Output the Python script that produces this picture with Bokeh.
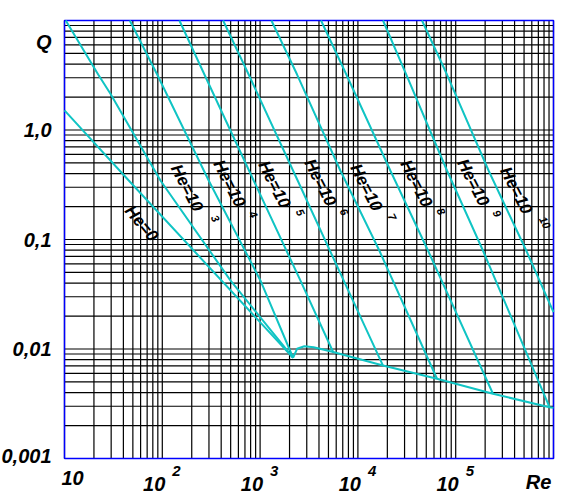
from bokeh.plotting import figure
from bokeh.models import Label, Range1d
from bokeh.embed import file_html
from bokeh.resources import INLINE

# ---- data (Re, friction factor) ----
he0_re = [10, 45.4, 2173]
he0_f = [1.51, 0.346, 0.00832]

he3_re = [10.3, 22.1, 29.5, 95.7, 497, 2173]
he3_f = [10, 3.21, 2.14, 0.346, 0.0423, 0.00832]

he4_re = [46.5, 88.6, 298, 1007, 2173]
he4_f = [10, 3.21, 0.346, 0.0423, 0.00832]

he5_re = [149.6, 269.5, 859, 2580, 5610]
he5_f = [10, 3.21, 0.346, 0.0423, 0.00929]

he6_re = [418.5, 764, 2421, 7145, 18060]
he6_f = [10, 3.21, 0.346, 0.0423, 0.00706]

he7_re = [1305, 2388, 6612, 16555, 64360]
he7_f = [10, 3.21, 0.4267, 0.0793, 0.00535]

he8_re = [4198, 7616, 21450, 52070, 240400]
he8_f = [10, 3.21, 0.4267, 0.0793, 0.0039]

he9_re = [18060, 31240, 81400, 189900, 909900]
he9_f = [10, 3.21, 0.4267, 0.0793, 0.00294]

he10_re = [45220, 81400, 216700, 526000, 1000000]
he10_f = [10, 3.21, 0.4267, 0.0793, 0.0217]

turb_re = [2173, 2388, 2835, 3527, 5224, 18060, 64360, 240400, 909900, 1000000]
turb_f = [0.00832, 0.01004, 0.0106, 0.01038, 0.00955, 0.00706, 0.00535, 0.0039, 0.00294, 0.0029]

# curve labels
he_label_text = ["He=0", "He=10", "He=10", "He=10", "He=10", "He=10", "He=10", "He=10", "He=10"]
he_label_re = [61.2, 178.6, 485, 1400, 4130, 12190, 39540, 151100, 415600]
he_label_f = [0.140, 0.2954, 0.3246, 0.3179, 0.3315, 0.2985, 0.3246, 0.3315, 0.2802]
he_exp_text = ["3", "4", "5", "6", "7", "8", "9", "10"]
he_exp_re = [349, 853, 2580, 7264, 22470, 71190, 265900, 822000]
he_exp_f = [0.1556, 0.1692, 0.1765, 0.1783, 0.1605, 0.1802, 0.1727, 0.1429]

# axis tick labels
x_tick_vals = [10, 100, 1000, 10000, 100000]
x_tick_sups = ["", "2", "3", "4", "5"]
y_tick_vals = [0.001, 0.01, 0.1, 1.0, 10.0]
y_tick_text = ["0,001", "0,01", "0,1", "1,0", "Q"]

# axis extents and grid subdivisions
X_MIN, X_MAX = 10, 1e6
Y_MIN, Y_MAX = 0.001, 10
x_decades = [10, 100, 1000, 10000, 100000]
y_decades = [0.001, 0.01, 0.1, 1.0]
minor_mult = [1, 2, 3, 4, 5, 6, 7, 8, 9]

CYAN = "#10C4C4"
FONT = "Liberation Sans"

# layout: data box placed at pixels (64..553, 20..458) of a full-canvas frame
W, H = 572, 500
BOX_L, BOX_R, BOX_T, BOX_B = 64, 553, 20, 458
dx = (BOX_R - BOX_L) / 5.0
dy = (BOX_B - BOX_T) / 4.0
x_start = 10 ** (1 - BOX_L / dx)
x_end = 10 ** (6 + (W - BOX_R) / dx)
y_end = 10 ** (1 + BOX_T / dy)
y_start = 10 ** (-3 - (H - BOX_B) / dy)

p = figure(width=W, height=H, x_axis_type="log", y_axis_type="log",
           x_range=Range1d(x_start, x_end), y_range=Range1d(y_start, y_end),
           output_backend="svg", toolbar_location=None,
           min_border=0, min_border_left=0, min_border_right=0,
           min_border_top=0, min_border_bottom=0)
p.axis.visible = False
p.grid.visible = False
p.outline_line_color = None
p.background_fill_color = "white"
p.border_fill_color = "white"

# grid
vx = [d * m for d in x_decades for m in minor_mult] + [X_MAX]
hy = [d * m for d in y_decades for m in minor_mult] + [Y_MAX]
p.segment(x0=vx, y0=[Y_MIN] * len(vx), x1=vx, y1=[Y_MAX] * len(vx),
          line_color="black", line_width=1.2)
p.segment(x0=[X_MIN] * len(hy), y0=hy, x1=[X_MAX] * len(hy), y1=hy,
          line_color="black", line_width=1.2)
# blue frame
p.line([X_MIN, X_MAX, X_MAX, X_MIN, X_MIN], [Y_MIN, Y_MIN, Y_MAX, Y_MAX, Y_MIN],
       line_color="#0000FF", line_width=1.5)

curves = [(he0_re, he0_f), (he3_re, he3_f), (he4_re, he4_f), (he5_re, he5_f),
          (he6_re, he6_f), (he7_re, he7_f), (he8_re, he8_f), (he9_re, he9_f),
          (he10_re, he10_f), (turb_re, turb_f)]
for xs, ys in curves:
    p.line(xs, ys, line_color=CYAN, line_width=2)


def lab(x, y, t, size, align="center", xo=0, yo=0, angle=0.0, style="bold italic"):
    p.add_layout(Label(x=x, y=y, text=t, x_offset=xo, y_offset=yo, angle=angle,
                       text_align=align, text_baseline="middle",
                       text_font=FONT, text_font_style=style,
                       text_font_size=size, text_color="black"))


# curve labels
for i, (t, x, y) in enumerate(zip(he_label_text, he_label_re, he_label_f)):
    lab(x, y, t, "17px", angle=(-0.87 if i == 0 else -1.1))
for t, x, y in zip(he_exp_text, he_exp_re, he_exp_f):
    lab(x, y, t, "11px", angle=-1.1)

# x tick labels
for v, s in zip(x_tick_vals, x_tick_sups):
    if s == "":
        lab(v, Y_MIN, "10", "20px", align="left", xo=-3, yo=-19)
    else:
        lab(v, Y_MIN, "10", "20px", align="right", xo=3, yo=-25)
        lab(v, Y_MIN, s, "15px", align="left", xo=10, yo=-12)
lab(X_MAX, Y_MIN, "Re", "20px", xo=-15, yo=-23)

# y tick labels
for v, t in zip(y_tick_vals, y_tick_text):
    yo = 0
    if t == "0,001":
        yo = 3
    if t == "Q":
        yo = -21
    lab(X_MIN, v, t, "20px", align="right", xo=-13, yo=yo)

open("out.html", "w").write(file_html(p, INLINE))
